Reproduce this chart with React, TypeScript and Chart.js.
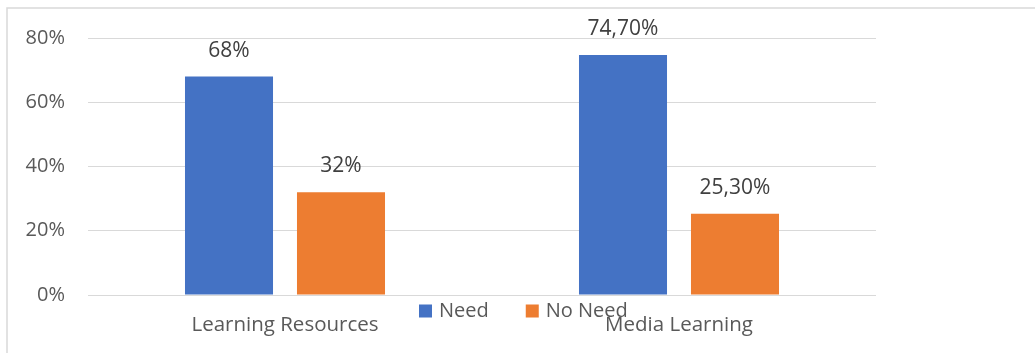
import React, { useEffect, useRef } from "react";
import { Chart, registerables } from "chart.js";

Chart.register(...registerables);

const categories = ["Learning Resources", "Media Learning"];
const seriesNames = ["Need", "No Need"];
const needValues = [68, 74.7];
const noNeedValues = [32, 25.3];
const needLabels = ["68%", "74,70%"];
const noNeedLabels = ["32%", "25,30%"];
const yTickValues = [0, 20, 40, 60, 80];

const BLUE = "#4472C4";
const ORANGE = "#ED7D31";
const TEXT = "#595959";
const GRID = "#D9D9D9";
const FONT = "'Open Sans', 'Noto Sans', sans-serif";

const W = 1035;
const H = 353;

export default function App() {
  const ref = useRef<HTMLCanvasElement | null>(null);

  useEffect(() => {
    if (!ref.current) return;
    const labelSets = [needLabels, noNeedLabels];

    const extras = {
      id: "extras",
      afterDraw(chart: any) {
        const ctx = chart.ctx;
        ctx.save();
        // outer border (top and left visible)
        ctx.strokeStyle = GRID;
        ctx.lineWidth = 1.5;
        ctx.beginPath();
        ctx.moveTo(7, H);
        ctx.lineTo(7, 8);
        ctx.lineTo(W, 8);
        ctx.stroke();

        // data labels
        ctx.font = `21px ${FONT}`;
        ctx.fillStyle = "#404040";
        ctx.textAlign = "center";
        ctx.textBaseline = "middle";
        chart.data.datasets.forEach((ds: any, di: number) => {
          const meta = chart.getDatasetMeta(di);
          meta.data.forEach((bar: any, i: number) => {
            ctx.fillText(labelSets[di][i], bar.x, bar.y - 26);
          });
        });

        // legend
        ctx.font = `20px ${FONT}`;
        ctx.textAlign = "left";
        let x = 419;
        const cy = 311;
        chart.data.datasets.forEach((ds: any) => {
          ctx.fillStyle = ds.backgroundColor;
          ctx.fillRect(x, cy - 6.5, 13, 13);
          ctx.fillStyle = TEXT;
          ctx.fillText(ds.label, x + 20, cy);
          x += 20 + ctx.measureText(ds.label).width + 37;
        });
        ctx.restore();
      },
    };

    const chart = new Chart(ref.current, {
      type: "bar",
      data: {
        labels: categories,
        datasets: [
          { label: seriesNames[0], data: needValues, backgroundColor: BLUE },
          { label: seriesNames[1], data: noNeedValues, backgroundColor: ORANGE },
        ],
      },
      options: {
        animation: false,
        responsive: false,
        maintainAspectRatio: false,
        devicePixelRatio: 1,
        layout: { padding: { left: 0, top: 38, right: W - 876, bottom: 0 } },
        datasets: {
          bar: { categoryPercentage: 0.5685, barPercentage: 0.786 },
        },
        plugins: {
          legend: { display: false },
          tooltip: { enabled: false },
        },
        scales: {
          x: {
            grid: { display: false, drawTicks: false },
            border: { display: false },
            ticks: {
              color: TEXT,
              font: { family: FONT, size: 20.5 },
              padding: 18,
              maxRotation: 0,
            },
            afterFit(scale: any) {
              scale.height = H - 295;
            },
          },
          y: {
            min: 0,
            max: 80,
            afterBuildTicks(scale: any) {
              scale.ticks = yTickValues.map((v) => ({ value: v }));
            },
            grid: { color: GRID, lineWidth: 1, drawTicks: false },
            border: { display: false },
            ticks: {
              color: TEXT,
              font: { family: FONT, size: 20 },
              padding: 23,
              callback: (v: any) => `${v}%`,
            },
            afterFit(scale: any) {
              scale.width = 88;
            },
          },
        },
      },
      plugins: [extras],
    });
    return () => chart.destroy();
  }, []);

  return (
    <div style={{ position: "absolute", left: 0, top: 0, width: W, height: H, background: "#fff" }}>
      <canvas ref={ref} width={W} height={H} style={{ width: W, height: H, display: "block" }} />
    </div>
  );
}
